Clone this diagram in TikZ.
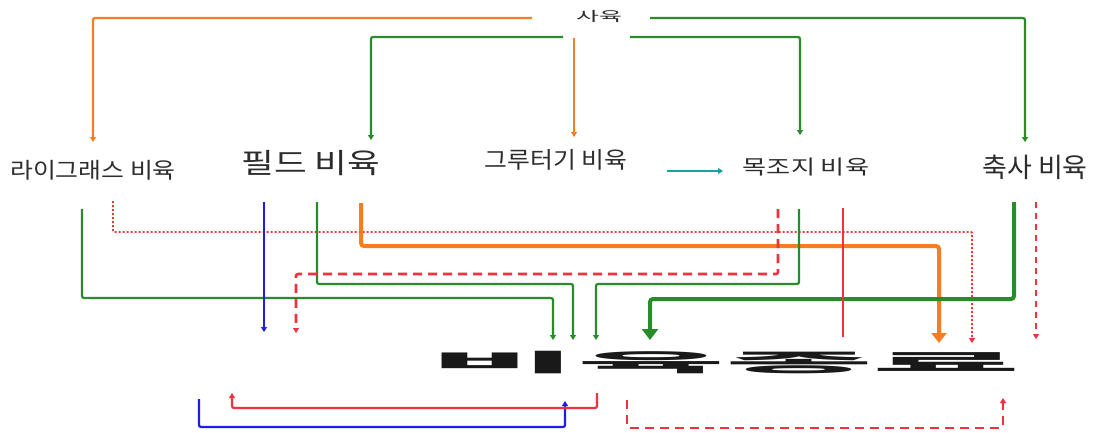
\documentclass[tikz,border=0pt]{standalone}
\usepackage{fontspec}
\usepackage{graphicx}
\newfontfamily\kr{Noto Sans CJK KR}
\usetikzlibrary{arrows.meta}
\definecolor{cOr}{RGB}{245,125,35}
\definecolor{cGr}{RGB}{40,140,40}
\definecolor{cBl}{RGB}{30,30,230}
\definecolor{cRd}{RGB}{240,50,60}
\definecolor{cTl}{RGB}{30,160,160}
\definecolor{cTx}{RGB}{45,45,45}
\newcommand{\ktxt}[3]{\scalebox{#1}[1]{\fontsize{#2}{#2}\selectfont\kr #3}}
\begin{document}
\begin{tikzpicture}[x=1pt,y=-1pt,
  lbl/.style={inner sep=0pt, text=cTx},
  ln/.style={line width=2.2pt, rounded corners=2pt},
  thk/.style={line width=4pt, rounded corners=3pt},
  sa/.style={-{Triangle[length=5pt,width=6pt]}},
  ba/.style={-{Triangle[length=11pt,width=16pt]}},
  dsh/.style={dash pattern=on 9pt off 6pt},
  dsh2/.style={dash pattern=on 6pt off 5pt},
  dot/.style={dash pattern=on 2pt off 2pt, line width=1.8pt}]
\useasboundingbox[fill=white] (0,0) rectangle (1094,432);

% labels
\node[lbl] (sayuk) at (599,16) {\ktxt{1.85}{13.5}{사육}};
\node[lbl] (rg) at (93,170) {\ktxt{1.13}{22}{라이그래스 비육}};
\node[lbl] (field) at (311,163) {\ktxt{1.27}{28}{필드 비육}};
\node[lbl] (stub) at (556,160) {\ktxt{1.08}{23}{그루터기 비육}};
\node[lbl] (mok) at (806,167) {\ktxt{1.31}{20}{목조지 비육}};
\node[lbl] (chuk) at (1035,167) {\ktxt{1.0}{27}{축사 비육}};
\node[lbl, text=black!90] (fin) at (725,363) {\ktxt{6.7}{24}{\bfseries 비육종료}};

% coordinates
\coordinate (t1a) at (532,18);  \coordinate (t1b) at (93,142);
\coordinate (t2a) at (563,37);  \coordinate (t2b) at (371,140);
\coordinate (t3a) at (574,38);  \coordinate (t3b) at (574,137);
\coordinate (t4a) at (630,37);  \coordinate (t4b) at (800,135);
\coordinate (t5a) at (650,18);  \coordinate (t5b) at (1025,142);
\coordinate (t6a) at (667,171); \coordinate (t6b) at (723,171);

% top connectors
\draw[ln, cOr, sa] (t1a) -| (t1b);
\draw[ln, cGr, sa] (t2a) -| (t2b);
\draw[ln, cOr, sa] (t3a) -- (t3b);
\draw[ln, cGr, sa] (t4a) -| (t4b);
\draw[ln, cGr, sa] (t5a) -| (t5b);
\draw[ln, cTl, sa] (t6a) -- (t6b);

% lower connectors
\coordinate (b1a) at (82,209);   \coordinate (b1b) at (553,298); \coordinate (b1c) at (553,340);
\coordinate (b2a) at (113,201);  \coordinate (b2b) at (972,232); \coordinate (b2c) at (972,343);
\coordinate (b3a) at (264,202);  \coordinate (b3b) at (264,332);
\coordinate (b4a) at (317,202);  \coordinate (b4b) at (573,284); \coordinate (b4c) at (573,340);
\coordinate (b5a) at (361,203);  \coordinate (b5b) at (939,246); \coordinate (b5c) at (939,343);
\coordinate (b6a) at (778,209);  \coordinate (b6b) at (296,274); \coordinate (b6c) at (296,333);
\coordinate (b7a) at (799,209);  \coordinate (b7b) at (596,284); \coordinate (b7c) at (596,340);
\coordinate (b8a) at (1014,202); \coordinate (b8b) at (650,299); \coordinate (b8c) at (650,340);
\coordinate (b9a) at (843,208);  \coordinate (b9b) at (843,337);
\coordinate (b10a) at (1036,202); \coordinate (b10b) at (1036,339);

\draw[ln, cRd, dot, rounded corners=1pt, sa] (b2a) |- (b2b) -- (b2c);
\draw[ln, cGr, sa] (b1a) |- (b1b) -- (b1c);
\draw[ln, cBl, sa] (b3a) -- (b3b);
\draw[ln, cGr, sa] (b4a) |- (b4b) -- (b4c);
\draw[thk, cOr, -{Triangle[length=10pt,width=15pt]}] (b5a) |- (b5b) -- (b5c);
\draw[ln, line width=2.6pt, cRd, dsh, sa] (b6a) |- (b6b) -- (b6c);
\draw[ln, cGr, sa] (b7a) |- (b7b) -- (b7c);
\draw[thk, cGr, ba] (b8a) |- (b8b) -- (b8c);
\draw[ln, cRd] (b9a) -- (b9b);
\draw[ln, line width=2.6pt, cRd, dsh2, sa] (b10a) -- (b10b);

% bottom loops
\coordinate (c1a) at (199,399); \coordinate (c1b) at (565,427); \coordinate (c1c) at (565,401);
\coordinate (c2a) at (597,393); \coordinate (c2b) at (232,408); \coordinate (c2c) at (232,393);
\coordinate (c3a) at (627,400); \coordinate (c3b) at (1003,428); \coordinate (c3c) at (1003,398);
\draw[ln, cBl, sa] (c1a) |- (c1b) -- (c1c);
\draw[ln, cRd, sa] (c2a) |- (c2b) -- (c2c);
\draw[ln, line width=2.6pt, cRd, dsh, sa] (c3a) |- (c3b) -- (c3c);
\end{tikzpicture}
\end{document}
